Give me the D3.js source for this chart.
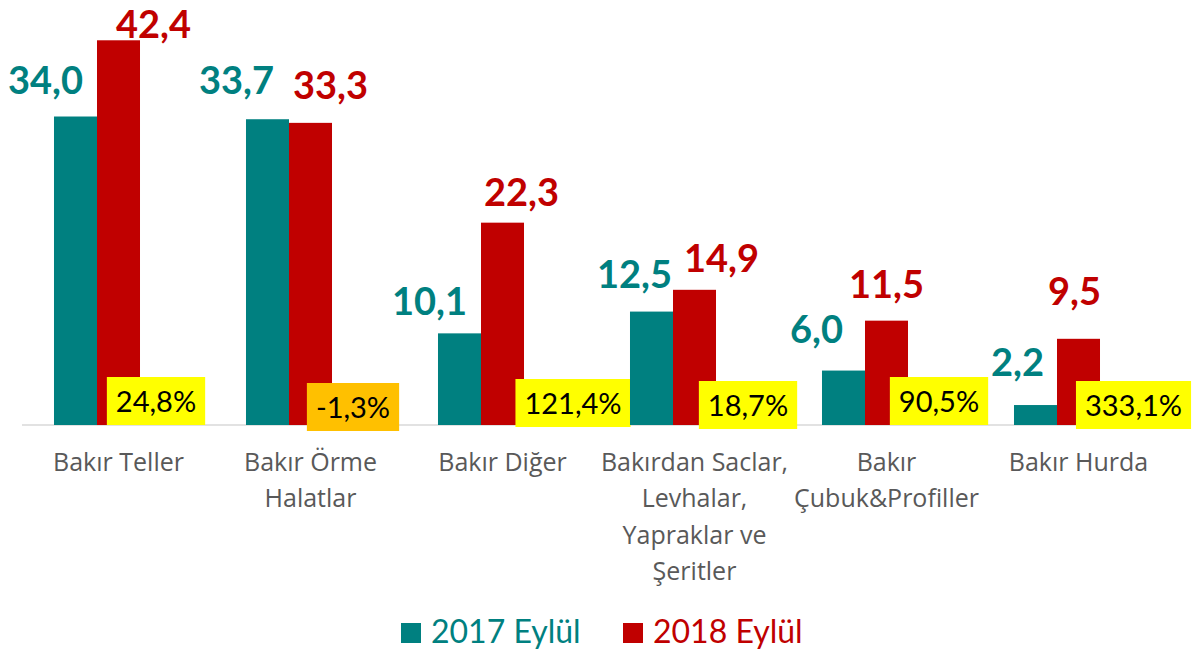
<!DOCTYPE html>
<html>
<head>
  <meta charset='utf-8'>
  <title>Bakır ithalatı</title>
  <script src="https://cdnjs.cloudflare.com/ajax/libs/d3/7.8.5/d3.min.js"></script>
  <style>
    body { margin: 0; background: #fff; }
  </style>
</head>
<body>
  <svg width="1194" height="655" id="chart"></svg>
  <script>
    // data
    const categories = ['Bakır Teller', 'Bakır Örme Halatlar', 'Bakır Diğer',
      'Bakırdan Saclar, Levhalar, Yapraklar ve Şeritler', 'Bakır Çubuk&Profiller', 'Bakır Hurda'];
    const categoryLines = [
      ['Bakır Teller'],
      ['Bakır Örme', 'Halatlar'],
      ['Bakır Diğer'],
      ['Bakırdan Saclar,', 'Levhalar,', 'Yapraklar ve', 'Şeritler'],
      ['Bakır', 'Çubuk&Profiller'],
      ['Bakır Hurda']
    ];
    const seriesNames = ['2017 Eylül', '2018 Eylül'];
    const values2017 = [34.0, 33.7, 10.1, 12.5, 6.0, 2.2];
    const values2018 = [42.4, 33.3, 22.3, 14.9, 11.5, 9.5];
    const changePct = [24.8, -1.3, 121.4, 18.7, 90.5, 333.1];

    // label placement tweaks (the original labels were dragged by hand)
    const tealDx = [-30, -31, -30, -17, -27, -18];
    const tealGap = [23, 25, 18, 24, 28, 29];
    const redDx = [35, 20, 19, 27, 0, -4];
    const redGap = [2, 24, 17, 18, 23, 34];
    const pctDx = [-5.5, -0.5, 27.5, 10.5, 9.5, 12];
    const pctDy = [0, 6, 2, 4, 0, 4];

    const colors = ['#008080', '#C00000'];
    const fmt = v => d3.format('.1f')(v).replace('.', ',').replace('\u2212', '-');

    const svg = d3.select('#chart');

    const x = d3.scaleBand()
      .domain(categories)
      .range([22.5, 1174.5])
      .paddingInner(0.328)
      .paddingOuter(0.164);

    const xs = d3.scaleBand()
      .domain(['s0', 's1', 'pct'])
      .range([0, x.bandwidth()]);

    const y = d3.scaleLinear()
      .domain([0, 45])
      .range([425, 16.7]);

    // axis line
    svg.append('line')
      .attr('x1', 22).attr('x2', 1174)
      .attr('y1', y(0)).attr('y2', y(0))
      .attr('stroke', '#D9D9D9').attr('stroke-width', 1.5);

    const series = [values2017, values2018];

    const groups = svg.selectAll('g.cat')
      .data(categories)
      .join('g')
      .attr('class', 'cat')
      .attr('transform', d => `translate(${x(d)},0)`);

    series.forEach((vals, s) => {
      groups.append('rect')
        .attr('x', xs('s' + s))
        .attr('width', xs.bandwidth())
        .attr('y', (d, i) => y(vals[i]))
        .attr('height', (d, i) => y(0) - y(vals[i]))
        .attr('fill', colors[s]);
    });

    // value labels
    const dxs = [tealDx, redDx], gaps = [tealGap, redGap];
    series.forEach((vals, s) => {
      groups.append('text')
        .attr('x', (d, i) => xs('s' + s) + xs.bandwidth() / 2 + dxs[s][i])
        .attr('y', (d, i) => y(vals[i]) - gaps[s][i])
        .attr('text-anchor', 'middle')
        .attr('font-family', 'Lato, sans-serif')
        .attr('font-weight', 700)
        .attr('font-size', 38)
        .attr('fill', colors[s])
        .text((d, i) => fmt(vals[i]));
    });

    // change % boxes
    groups.each(function (d, i) {
      const g = d3.select(this);
      const cx = xs('pct') + xs.bandwidth() / 2 + pctDx[i];
      const bottom = y(0) + pctDy[i];
      const box = g.append('rect');
      const t = g.append('text')
        .attr('x', cx)
        .attr('y', bottom - 13)
        .attr('text-anchor', 'middle')
        .attr('font-family', 'Lato, sans-serif')
        .attr('font-size', 29)
        .attr('fill', '#000')
        .text(fmt(changePct[i]) + '%');
      const w = t.node().getComputedTextLength() + 18;
      box.attr('x', cx - w / 2)
        .attr('y', bottom - 48)
        .attr('width', w)
        .attr('height', 48)
        .attr('fill', changePct[i] < 0 ? '#FFC000' : '#FFFF00');
    });

    // category labels
    groups.append('text')
      .attr('text-anchor', 'middle')
      .attr('font-family', '"Open Sans", sans-serif')
      .attr('font-size', 25)
      .attr('fill', '#595959')
      .selectAll('tspan')
      .data((d, i) => categoryLines[i])
      .join('tspan')
      .attr('x', x.bandwidth() / 2)
      .attr('y', (d, j) => 471 + j * 36.3)
      .text(d => d);

    // legend
    const legendX = [401, 623];
    const legend = svg.selectAll('g.legend')
      .data(seriesNames)
      .join('g')
      .attr('class', 'legend')
      .attr('transform', (d, i) => `translate(${legendX[i]},623)`);
    legend.append('rect')
      .attr('width', 20).attr('height', 20)
      .attr('fill', (d, i) => colors[i]);
    legend.append('text')
      .attr('x', 30).attr('y', 20)
      .attr('font-family', 'Lato, sans-serif')
      .attr('font-size', 32)
      .attr('fill', (d, i) => colors[i])
      .text(d => d);
  </script>
</body>
</html>
